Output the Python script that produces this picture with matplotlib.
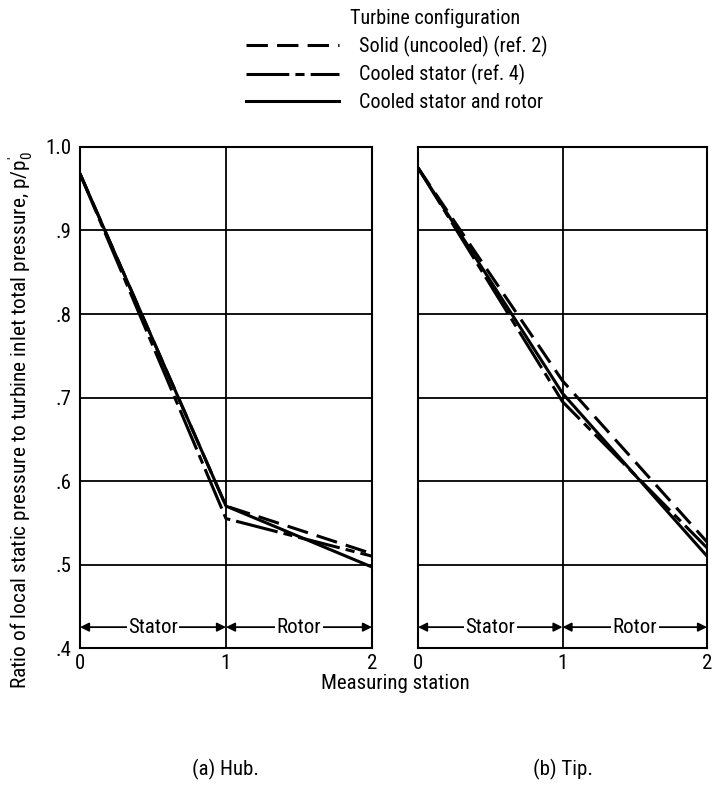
import matplotlib
matplotlib.use("Agg")
import matplotlib.pyplot as plt
from matplotlib.lines import Line2D
from matplotlib import font_manager

# pick a narrow face if one is installed
names = {f.name for f in font_manager.fontManager.ttflist}
narrow = [n for n in ['Liberation Sans Narrow', 'DejaVu Sans Condensed',
                      'Roboto Condensed', 'Open Sans Condensed', 'Arial Narrow']
          if n in names]
plt.rcParams['font.family'] = narrow + ['Liberation Sans', 'DejaVu Sans']
plt.rcParams['mathtext.fontset'] = 'custom'
plt.rcParams['mathtext.rm'] = (narrow + ['Liberation Sans'])[0]
plt.rcParams['mathtext.it'] = (narrow + ['Liberation Sans'])[0]
fs = 15 if narrow else 13

# measuring stations
stations = [0, 1, 2]

# hub values, p/p0'
hub_uncooled = [0.968, 0.570, 0.513]
hub_cooled_stator = [0.968, 0.555, 0.510]
hub_cooled_both = [0.968, 0.570, 0.497]

# tip values
tip_uncooled = [0.975, 0.720, 0.527]
tip_cooled_stator = [0.975, 0.695, 0.520]
tip_cooled_both = [0.975, 0.705, 0.510]

series_names = ['Solid (uncooled) (ref. 2)', 'Cooled stator (ref. 4)',
                'Cooled stator and rotor']
yticks = [0.4, 0.5, 0.6, 0.7, 0.8, 0.9, 1.0]
ytick_labels = ['.4', '.5', '.6', '.7', '.8', '.9', '1.0']
xtick_labels = ['0', '1', '2']

styles = [dict(linestyle=(0, (7, 3)), lw=2.2),
          dict(linestyle=(0, (14, 2, 3, 2)), lw=2.2),
          dict(linestyle='-', lw=2.2)]

fig = plt.figure(figsize=(7.13, 7.92), dpi=100)
ax1 = fig.add_axes([0.1122, 0.1818, 0.4095, 0.6326])
ax2 = fig.add_axes([0.5863, 0.1818, 0.4053, 0.6326])

hub = [hub_uncooled, hub_cooled_stator, hub_cooled_both]
tip = [tip_uncooled, tip_cooled_stator, tip_cooled_both]

for ax, data, caption in [(ax1, hub, '(a) Hub.'), (ax2, tip, '(b) Tip.')]:
    for vals, st in zip(data, styles):
        ax.plot(stations, vals, color='black', **st)
    ax.set_xlim(0, 2)
    ax.set_ylim(0.4, 1.0)
    ax.set_yticks(yticks)
    ax.set_xticks(stations)
    ax.set_xticklabels(xtick_labels, fontsize=fs)
    ax.tick_params(axis='x', length=0, pad=4)
    ax.tick_params(axis='y', length=0, pad=6)
    for y in yticks[1:-1]:
        ax.axhline(y, color='black', lw=1.3)
    ax.axvline(1, color='black', lw=1.3)
    for s in ax.spines.values():
        s.set_linewidth(1.5)
    # stator / rotor span arrows
    for x0, x1, name in [(0, 1, 'Stator'), (1, 2, 'Rotor')]:
        ax.annotate('', xy=(x0, 0.425), xytext=(x1, 0.425),
                    arrowprops=dict(arrowstyle='<|-|>', color='black', lw=1.3,
                                    mutation_scale=13, shrinkA=0, shrinkB=0))
        ax.text((x0 + x1) / 2, 0.425, name, ha='center', va='center',
                fontsize=fs, bbox=dict(facecolor='white', edgecolor='none', pad=1))
    ax.text(0.5, -0.243, caption, transform=ax.transAxes, ha='center',
            va='center', fontsize=fs)

ax1.set_yticklabels(ytick_labels, fontsize=fs)
ax2.set_yticklabels([])
ax1.set_ylabel("Ratio of local static pressure to turbine inlet total pressure, p/p$_0^{\\prime}$",
               fontsize=fs + 0.4)
ax1.yaxis.set_label_coords(-0.155, 0.455)
fig.text(0.555, 0.137, 'Measuring station', ha='center', va='center', fontsize=fs)

fig.text(0.61, 0.977, 'Turbine configuration', ha='center', va='center',
         fontsize=fs - 0.5)
handles = [Line2D([], [], color='black', **st) for st in styles]
leg = fig.legend(handles, series_names, loc='upper left',
                 bbox_to_anchor=(0.345, 0.955), frameon=False, fontsize=fs - 0.5,
                 handlelength=4.6, handletextpad=1.0,
                 labelspacing=0.38, borderpad=0.0, borderaxespad=0.0)

fig.savefig('out.png', dpi=100)
